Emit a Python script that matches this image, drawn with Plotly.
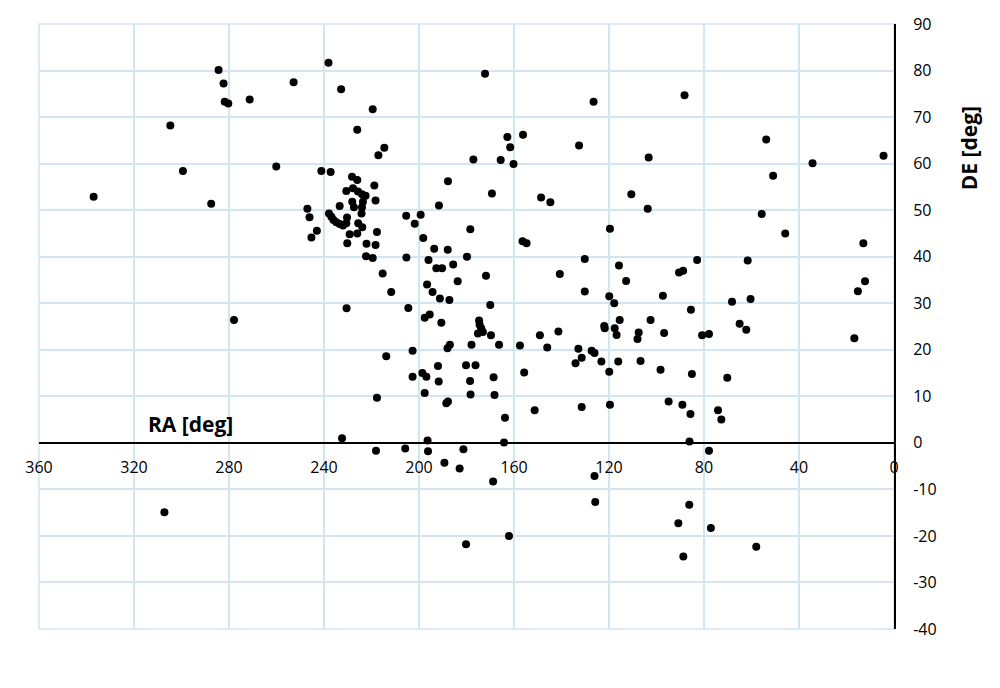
import plotly.graph_objects as go

# Right ascension [deg] and declination [deg] of each object
ra = [
    337.0, 304.7, 299.4, 287.5, 284.4, 282.3, 281.8, 280.3, 271.3, 252.8,
    238.1, 260.1, 241.1, 237.2, 247.0, 246.1, 243.0, 245.3, 277.9, 307.2,
    237.9, 236.9, 236.0, 234.8, 233.4, 232.0, 230.6, 230.3, 233.4, 228.2,
    226.0, 218.8, 230.6, 227.8, 225.7, 224.0, 222.5, 218.3, 228.1, 227.4,
    223.6, 224.0, 224.2, 225.6, 223.9, 229.2, 226.0, 217.7, 230.2, 222.1,
    218.3, 217.1, 232.8, 219.5, 226.0, 214.6, 222.3, 219.5, 215.3, 211.7,
    230.5, 213.8, 217.7, 232.4, 218.1,
    205.4, 199.3, 201.8, 198.2, 191.6, 187.8, 172.2, 177.1, 165.6, 160.2,
    162.8, 161.6, 156.2, 169.3, 148.6, 144.7, 178.4, 193.6, 187.9, 205.3,
    196.0, 179.8, 185.6, 192.7, 190.3, 171.8, 156.4, 154.7, 183.7, 196.6,
    194.3, 191.2, 187.2, 170.0, 204.5, 197.6, 195.5, 190.6, 174.7, 174.5,
    173.8, 175.2, 173.1, 169.7, 166.3, 177.9, 188.0, 187.0, 202.7, 157.5,
    149.1, 146.0, 141.3, 180.2, 176.2, 192.0, 202.7, 198.6, 196.9, 191.7,
    178.5, 168.6, 197.6, 178.3, 168.2, 188.5, 187.8, 155.7, 151.3, 163.8,
    164.2, 196.4, 205.8, 196.2, 189.3, 181.3, 182.9, 168.8, 180.2, 162.1,
    126.5, 132.6, 119.6, 130.2, 140.7, 115.8, 130.2, 119.9, 117.8, 115.5,
    132.9, 131.5, 134.1, 127.3, 126.1, 123.2, 119.9, 122.0, 121.8, 117.6,
    116.8, 116.1, 119.6, 131.5, 126.1, 125.8, 88.2, 53.8, 103.3, 4.4,
    34.3, 50.9, 110.6, 103.7, 55.7, 45.8, 12.9, 82.9, 61.6, 112.8,
    90.5, 88.8, 97.3, 68.2, 60.4, 85.5, 15.2, 12.2, 102.5, 107.5,
    108.0, 96.8, 80.8, 77.9, 65.0, 62.2, 16.7, 106.7, 98.3, 85.1,
    70.2, 94.9, 89.1, 85.7, 74.1, 72.7, 86.1, 77.9, 86.2, 90.8,
    77.1, 88.7, 58.0,
]
de = [
    52.9, 68.2, 58.4, 51.4, 80.1, 77.2, 73.3, 72.9, 73.8, 77.5,
    81.7, 59.4, 58.4, 58.2, 50.3, 48.5, 45.6, 44.1, 26.4, -14.9,
    49.3, 48.6, 47.9, 47.4, 47.0, 46.7, 47.2, 48.4, 50.9, 57.2,
    56.5, 55.3, 54.1, 54.7, 54.0, 53.4, 53.1, 52.1, 51.8, 50.6,
    51.8, 50.6, 49.3, 47.2, 46.3, 44.8, 45.0, 45.3, 42.9, 42.8,
    42.5, 61.8, 76.0, 71.7, 67.3, 63.4, 40.1, 39.7, 36.4, 32.4,
    28.9, 18.6, 9.7, 1.0, -1.7,
    48.8, 49.0, 47.1, 44.0, 51.0, 56.2, 79.3, 60.9, 60.8, 59.9,
    65.7, 63.5, 66.2, 53.6, 52.7, 51.7, 45.9, 41.7, 41.5, 39.8,
    39.3, 40.0, 38.3, 37.5, 37.5, 35.9, 43.3, 42.9, 34.7, 34.0,
    32.4, 31.0, 30.7, 29.6, 29.0, 26.9, 27.6, 25.8, 26.3, 25.4,
    24.6, 23.5, 23.8, 23.1, 21.1, 21.1, 20.3, 21.1, 19.8, 20.9,
    23.1, 20.5, 23.9, 16.7, 16.7, 16.5, 14.2, 15.0, 14.2, 13.2,
    13.3, 14.1, 10.7, 10.4, 10.3, 8.5, 8.9, 15.1, 7.0, 5.4,
    0.1, 0.5, -1.2, -1.8, -4.3, -1.4, -5.5, -8.3, -21.8, -20.0,
    73.3, 63.9, 46.0, 39.5, 36.3, 38.1, 32.5, 31.5, 30.0, 26.4,
    20.2, 18.3, 17.1, 19.8, 19.3, 17.5, 15.3, 25.1, 24.6, 24.6,
    23.2, 17.5, 8.2, 7.7, -7.1, -12.7, 74.7, 65.2, 61.3, 61.7,
    60.1, 57.4, 53.4, 50.3, 49.2, 45.0, 42.9, 39.3, 39.2, 34.8,
    36.6, 37.0, 31.6, 30.3, 30.9, 28.6, 32.6, 34.7, 26.4, 23.7,
    22.3, 23.6, 23.1, 23.4, 25.6, 24.3, 22.5, 17.6, 15.7, 14.8,
    14.0, 8.9, 8.2, 6.2, 7.0, 5.0, 0.3, -1.7, -13.3, -17.3,
    -18.3, -24.4, -22.3,
]

x_ticks = [360, 320, 280, 240, 200, 160, 120, 80, 40, 0]
y_ticks = [90, 80, 70, 60, 50, 40, 30, 20, 10, 0, -10, -20, -30, -40]
x_title = "RA [deg]"
y_title = "DE [deg]"

FONT = "Open Sans"
GRID = "#d2e6f1"

fig = go.Figure(
    go.Scatter(
        x=ra, y=de, mode="markers",
        marker=dict(color="black", size=8, line=dict(width=0)),
        hoverinfo="x+y",
    )
)

fig.update_layout(
    width=1000, height=688,
    margin=dict(l=31, r=114, t=16, b=67),
    paper_bgcolor="white", plot_bgcolor="white",
    showlegend=False,
    font=dict(family=FONT, size=16, color="black"),
    xaxis=dict(
        range=[360, 0], tickvals=x_ticks, ticktext=[str(v) for v in x_ticks],
        showgrid=True, gridcolor=GRID, gridwidth=1.5,
        zeroline=False, automargin=False,
        showline=True, linecolor="black", linewidth=2,
        anchor="free", position=40 / 130,
        ticks="", ticklabelstandoff=10,
        tickfont=dict(family=FONT, size=16, color="black"),
    ),
    yaxis=dict(
        range=[-40, 90], tickvals=y_ticks, ticktext=[str(v) for v in y_ticks],
        showgrid=True, gridcolor=GRID, gridwidth=1.5,
        zeroline=False, automargin=False,
        side="right",
        showline=True, linecolor="black", linewidth=2,
        ticks="", ticklabelstandoff=14,
        tickfont=dict(family=FONT, size=16, color="black"),
    ),
    shapes=[
        dict(type="rect", xref="x domain", yref="y domain",
             x0=0, x1=1, y0=0, y1=1, layer="below",
             line=dict(color=GRID, width=1.5)),
    ],
    annotations=[
        dict(text="<b>" + x_title + "</b>", xref="paper", yref="paper",
             x=0.177, y=0.3385, showarrow=False,
             font=dict(family=FONT, size=21, color="black"),
             xanchor="center", yanchor="middle"),
        dict(text="<b>" + y_title + "</b>", xref="paper", yref="paper",
             x=1.088, y=0.795, showarrow=False, textangle=-90,
             font=dict(family=FONT, size=21, color="black"),
             xanchor="center", yanchor="middle"),
    ],
)

fig.write_html("out.html")
